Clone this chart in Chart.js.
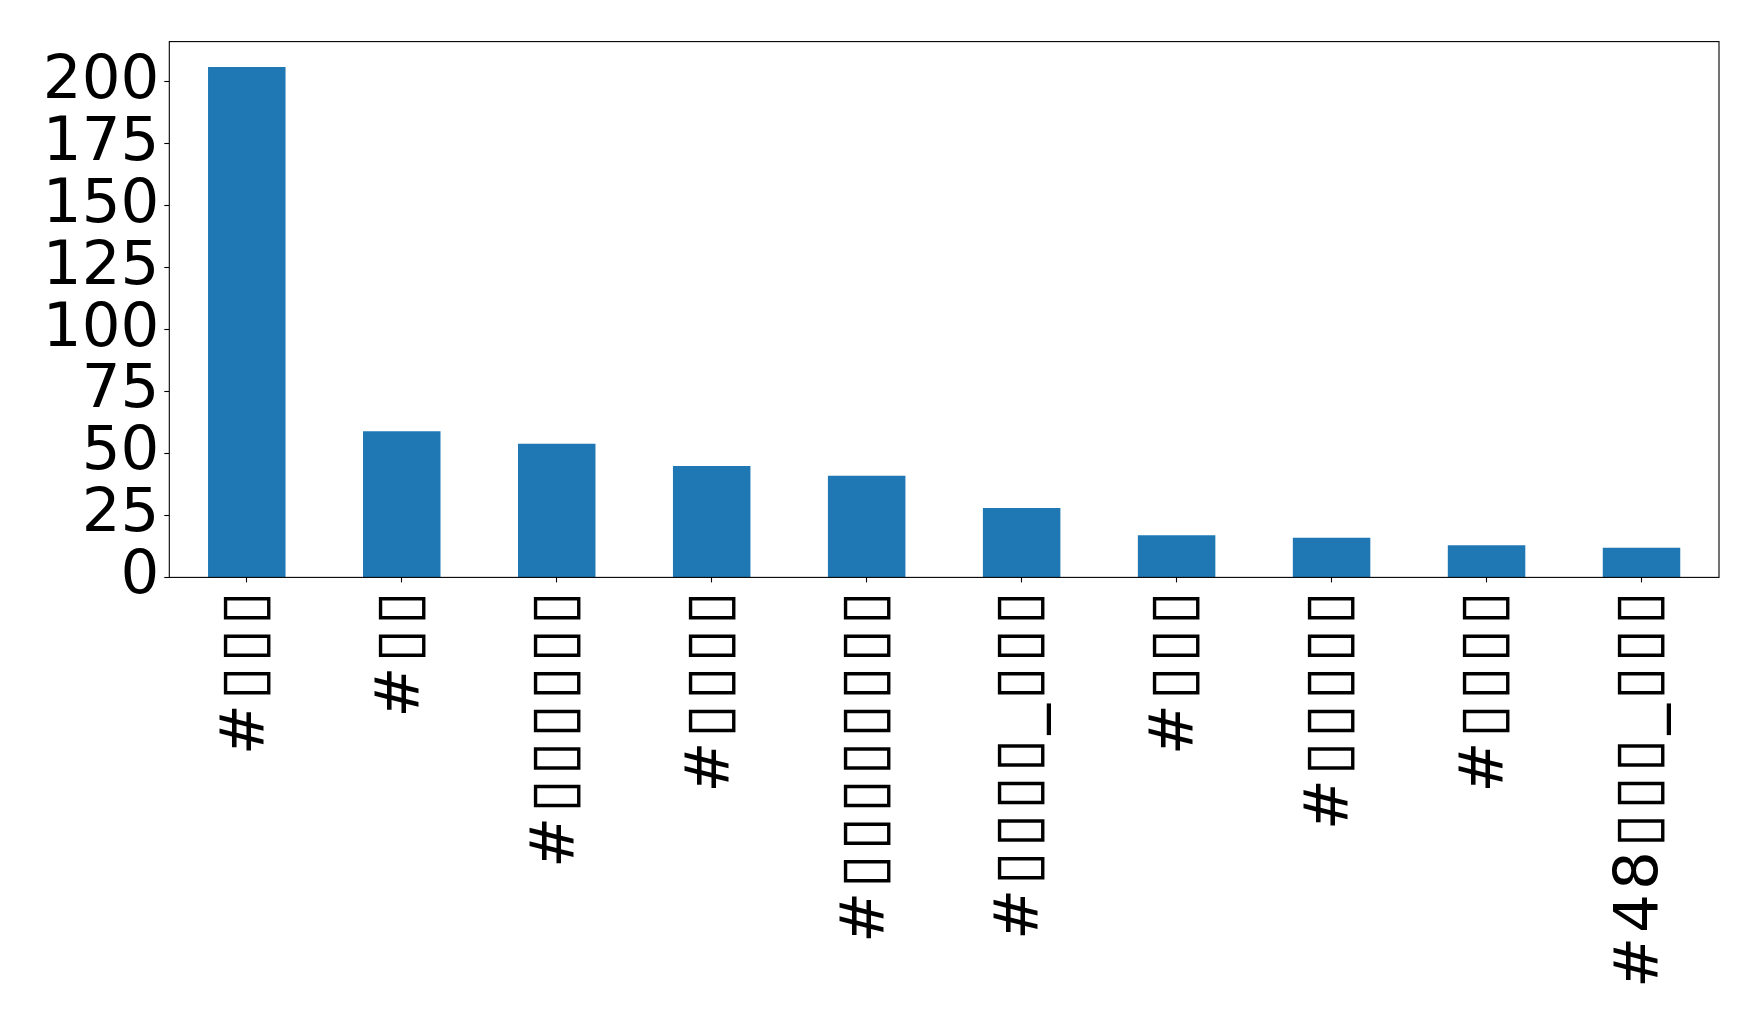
<!DOCTYPE html>
<html>
<head>
<meta charset="utf-8">
<script src="https://cdn.jsdelivr.net/npm/chart.js@4.4.1/dist/chart.umd.min.js"></script>
<style>
    html, body { margin: 0; padding: 0; background: #ffffff; }
    canvas { display: block; }
</style>
</head>
<body>
<canvas id="chart" width="1758" height="1016"></canvas>
<script>
// hashtag labels (the source rendered them as missing-glyph boxes)
const categories = [
    "#▯▯▯",
    "#▯▯",
    "#▯▯▯▯▯▯",
    "#▯▯▯▯",
    "#▯▯▯▯▯▯▯▯",
    "#▯▯▯▯_▯▯▯",
    "#▯▯▯",
    "#▯▯▯▯▯",
    "#▯▯▯▯",
    "#48▯▯▯_▯▯▯"
];
const counts = [206, 59, 54, 45, 41, 28, 17, 16, 13, 12];
const yTicks = [0, 25, 50, 75, 100, 125, 150, 175, 200];

const FONT = "'DejaVu Sans', sans-serif";

// axes frame like matplotlib's spines
const frame = {
    id: "frame",
    afterDatasetsDraw(chart) {
        // x tick labels are drawn after this (z: 1); loosen them a little
        chart.ctx.letterSpacing = "4px";
    },
    afterDraw(chart) {
        const { ctx, chartArea: { left, top, right, bottom } } = chart;
        ctx.letterSpacing = "0px";
        ctx.save();
        ctx.strokeStyle = "#000000";
        ctx.lineWidth = 1.1;
        ctx.strokeRect(left, top, right - left, bottom - top);
        ctx.restore();
    }
};

new Chart(document.getElementById("chart"), {
    type: "bar",
    data: {
        labels: categories,
        datasets: [{
            data: counts,
            backgroundColor: "#1f77b4",
            borderWidth: 0,
            barPercentage: 0.5,
            categoryPercentage: 1.0
        }]
    },
    options: {
        responsive: false,
        animation: false,
        layout: {
            padding: { top: 39, right: 39, left: 0, bottom: 0 }
        },
        scales: {
            x: {
                offset: true,
                border: { display: false },
                grid: {
                    offset: false,
                    drawOnChartArea: false,
                    drawTicks: true,
                    tickLength: 5,
                    tickWidth: 1.1,
                    tickColor: "#000000"
                },
                ticks: {
                    z: 1,
                    color: "#000000",
                    font: { family: FONT, size: 61 },
                    maxRotation: 90,
                    minRotation: 90,
                    padding: 5,
                    autoSkip: false
                },
                afterFit(scale) { scale.height = 438.6; }
            },
            y: {
                min: 0,
                max: 216.3,
                border: { display: false },
                grid: {
                    drawOnChartArea: false,
                    drawTicks: true,
                    tickLength: 5,
                    tickWidth: 1.1,
                    tickColor: "#000000"
                },
                afterBuildTicks(scale) {
                    scale.ticks = yTicks.map(v => ({ value: v }));
                },
                ticks: {
                    color: "#000000",
                    font: { family: FONT, size: 61 },
                    padding: 5,
                    autoSkip: false
                },
                afterFit(scale) { scale.width = 169.3; }
            }
        },
        plugins: {
            legend: { display: false },
            tooltip: { enabled: false }
        }
    },
    plugins: [frame]
});
</script>
</body>
</html>
